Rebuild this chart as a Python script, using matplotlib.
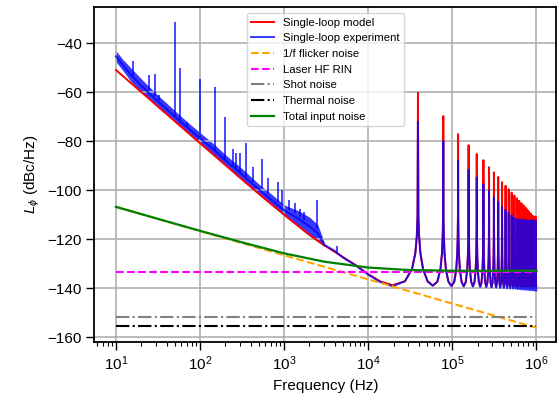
import numpy as np
import matplotlib
matplotlib.use("Agg")
import matplotlib.pyplot as plt

plt.rcParams["font.family"] = ["Liberation Sans", "DejaVu Sans"]
plt.rcParams["font.size"] = 11
plt.rcParams["mathtext.fontset"] = "custom"
plt.rcParams["mathtext.rm"] = "Liberation Sans"
plt.rcParams["mathtext.it"] = "Liberation Sans:italic"

# --- values (Hz, dBc/Hz) ---

# single-loop model below the first resonance
model_f_low = [10, 20, 50, 100, 200, 500, 1e3, 2e3, 3e3, 5e3, 7e3, 1e4, 1.4e4, 1.95e4]
model_db_low = [-50.9, -59.9, -71.8, -80.8, -89.7, -101.5, -110.0, -118.3, -122.5,
                -127.3, -130.5, -134.3, -137.3, -138.8]

# experiment trace (centre of the noisy band) below the first resonance
exp_f_low = [10, 12, 15, 20, 30, 50, 70, 100, 150, 200, 300, 500, 700, 1e3, 1.5e3,
             2e3, 2.5e3, 2.7e3, 3e3, 4e3, 5e3, 7e3, 1e4, 1.4e4, 1.95e4]
exp_db_low = [-45.3, -48.8, -52.8, -57.3, -63.0, -69.8, -74.3, -78.8, -83.8, -87.8,
              -92.9, -99.7, -103.8, -108.2, -111.8, -114.8, -117.5, -119.4, -122.3,
              -124.8, -127.5, -130.6, -134.5, -137.6, -139.2]

# noisy band edges of the experiment
band_f = [10, 12, 15, 20, 30, 50, 70, 100, 150, 200, 300, 500, 700, 1e3, 1.5e3,
          2e3, 2.5e3, 2.7e3, 3e3]
band_hi = [-43.0, -46.5, -50.0, -54.5, -60.5, -67.5, -72.0, -76.5, -81.5, -85.5,
           -90.5, -97.5, -101.5, -106.0, -108.5, -111.0, -114.0, -117.0, -121.5]
band_lo = [-47.5, -51.0, -55.5, -60.0, -65.5, -72.0, -76.5, -81.0, -86.2, -90.0,
           -95.3, -101.8, -106.0, -110.4, -115.2, -118.6, -121.0, -121.8, -123.2]

# spurs in the experiment: frequency, top, foot
spur_f = [16.1, 24.7, 29.3, 32.4, 50, 57.6, 70.4, 100, 150, 200, 250, 267, 300, 350,
          421, 539, 646, 849, 931, 1148, 1341, 1550, 1700, 2427, 4198]
spur_top = [-47.1, -53.0, -52.5, -61.0, -31.4, -50.2, -72.0, -54.5, -58.0, -70.2,
            -83.3, -85.0, -85.0, -80.9, -90.7, -87.4, -95.2, -96.8, -100.0, -104.0,
            -105.3, -107.7, -108.8, -104.2, -122.8]
spur_base = [-53.5, -59.0, -61.5, -63.0, -69.5, -71.5, -74.5, -79.0, -84.0, -87.5,
             -90.5, -91.5, -92.5, -94.5, -96.5, -99.0, -101.5, -105.0, -106.0, -108.0,
             -109.5, -111.0, -112.0, -116.0, -125.5]

# loop resonances
peak_freq = [39e3, 78e3, 117e3, 156e3, 195e3, 234e3, 273e3, 312e3, 351e3, 390e3,
             429e3, 468e3, 507e3, 546e3, 585e3, 624e3, 663e3, 702e3, 741e3, 780e3,
             819e3, 858e3, 897e3, 936e3, 975e3]
model_peak_db = [-60.2, -69.7, -77.1, -81.6, -85.2, -87.7, -90.6, -92.7, -94.6, -96.7,
                 -98.2, -99.6, -101.0, -102.2, -103.3, -104.3, -105.3, -106.2, -107.1,
                 -107.9, -108.8, -109.6, -110.4, -111.3, -112.2]
exp_peak_db = [-72.0, -79.9, -88.0, -91.8, -94.8, -97.5, -100.0, -102.9, -104.7, -106.8,
               -108.0, -109.2, -110.3, -111.4, -112.4, -113.4, -114.3, -115.2, -116.1,
               -117.0, -117.9, -118.8, -119.7, -120.6, -121.5]
model_valley_db = [-139.0, -139.1, -139.2, -139.2, -139.3, -139.3, -139.3, -139.3,
                   -139.3, -139.3, -139.3, -139.3, -139.3, -139.3, -139.3, -139.3,
                   -139.3, -139.3, -139.3, -139.3, -139.3, -139.3, -139.3, -139.3, -139.3]
exp_valley_db = [-139.0, -139.2, -139.3, -139.4, -139.5, -139.6, -139.7, -139.8, -139.9,
                 -140.0, -140.1, -140.2, -140.2, -140.3, -140.4, -140.5, -140.5, -140.6,
                 -140.7, -140.7, -140.8, -140.8, -140.9, -140.9, -141.0]
# shape of one resonance: offset from the peak (fraction of spacing), rise above valley
prof_off = [0.3, 0.15, 0.07, 0.03, 0.012]
prof_rise = [1.8, 6.8, 13.2, 20.5, 28.5]

# noise sources
flicker_f = [10, 1e6]
flicker_db = [-106.8, -156.2]
rin_db = -133.3
shot_db = -151.8
thermal_db = -155.5
total_f = [10, 30, 100, 300, 1e3, 3e3, 1e4, 3e4, 1e5, 3e5, 1e6]
total_db = [-106.8, -111.5, -116.6, -121.1, -125.8, -129.2, -131.6, -132.6, -132.9,
            -132.9, -132.9]


def resonance_trace(low_f, low_db, peaks, valleys):
    fsr = peak_freq[1] - peak_freq[0]
    f = list(low_f)
    v = list(low_db)
    for fp, top, val in zip(peak_freq, peaks, valleys):
        for off, rise in zip(prof_off, prof_rise):
            f.append(fp - off * fsr)
            v.append(val + rise)
        f.append(fp)
        v.append(top)
        for off, rise in zip(prof_off[::-1], prof_rise[::-1]):
            f.append(fp + off * fsr)
            v.append(val + rise)
        f.append(fp + 0.5 * fsr)
        v.append(val)
    return f, v


fig = plt.figure(figsize=(5.59, 4.08), dpi=100)
ax = fig.add_axes([0.169, 0.1618, 0.8265, 0.8203])

mf, mv = resonance_trace(model_f_low, model_db_low, model_peak_db, model_valley_db)
ef, ev = resonance_trace(exp_f_low, exp_db_low, exp_peak_db, exp_valley_db)

ax.plot(mf, mv, color="red", lw=1.4, label="Single-loop model")
ax.plot(ef, ev, color="blue", lw=1.4, alpha=0.78, label="Single-loop experiment")
ax.fill_between(band_f, band_lo, band_hi, color="blue", alpha=0.78, lw=0)
ax.vlines(spur_f, spur_base, spur_top, color="blue", lw=1.3, alpha=0.78)

ax.plot(flicker_f, flicker_db, color="orange", ls="--", lw=1.5, label="1/f flicker noise")
ax.plot(flicker_f, [rin_db, rin_db], color="magenta", ls="--", lw=1.5, label="Laser HF RIN")
ax.plot(flicker_f, [shot_db, shot_db], color="gray", ls="-.", lw=1.5, label="Shot noise")
ax.plot(flicker_f, [thermal_db, thermal_db], color="black", ls="-.", lw=1.5, label="Thermal noise")
ax.plot(total_f, total_db, color="green", lw=1.6, label="Total input noise")

ax.set_xscale("log")
ax.set_xlim(10 ** 0.745, 10 ** 6.238)
ax.set_ylim(-162.0, -25.3)
ax.set_yticks(np.arange(-160, -39, 20))
ax.set_xlabel("Frequency (Hz)")
ax.set_ylabel(r"$L_\phi$ (dBc/Hz)")
ax.grid(True, which="major", color="#b0b0b0", lw=1.2)
ax.tick_params(which="major", length=5.5, width=1.0)
ax.tick_params(which="minor", length=3.0, width=0.8)
for s in ax.spines.values():
    s.set_linewidth(1.3)

ax.legend(loc="upper center", fontsize=8.2)

fig.savefig("out.png", dpi=100)
